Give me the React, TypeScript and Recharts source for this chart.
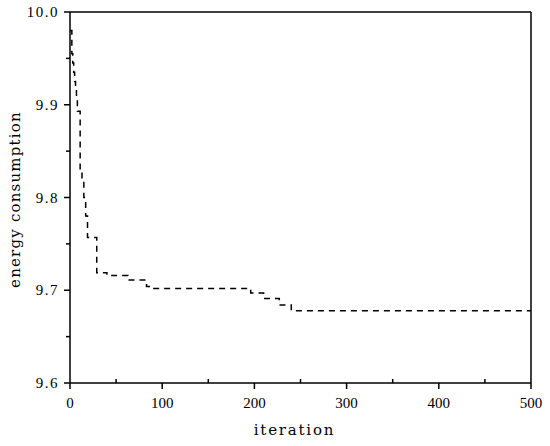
import React from 'react';
import { LineChart, Line, XAxis, YAxis, ReferenceLine } from 'recharts';

// step curve: iteration where the value changes
const iterations = [0, 2, 3, 4, 5, 6, 7, 8, 11, 13, 15, 17, 19, 29, 40, 63, 83, 86, 196, 210, 227, 240, 500];
const energy = [
  9.98, 9.955, 9.945, 9.935, 9.925, 9.915, 9.905, 9.893, 9.83, 9.82, 9.8, 9.78, 9.757, 9.719, 9.716, 9.711,
  9.704, 9.702, 9.697, 9.691, 9.684, 9.678, 9.678,
];

const xTicks = [0, 50, 100, 150, 200, 250, 300, 350, 400, 450, 500];
const yTicks = [9.6, 9.65, 9.7, 9.75, 9.8, 9.85, 9.9, 9.95, 10.0];

const chartData = iterations.map((it, i) => ({ iteration: it, energy: energy[i] }));

const TICK_FONT = '"Liberation Serif", "Times New Roman", serif';
const TITLE_FONT = '"DejaVu Serif", "Liberation Serif", serif';

const XTick = ({ x, y, payload }: { x?: number; y?: number; payload?: { value: number } }) => {
  if (x == null || y == null || !payload) return null;
  const major = payload.value % 100 === 0;
  return (
    <g>
      <line x1={x} x2={x} y1={y} y2={major ? y + 6 : y - 4} stroke="#000" strokeWidth={1.5} />
      {major && (
        <text
          x={x}
          y={y + 20}
          textAnchor="middle"
          dominantBaseline="central"
          fontFamily={TICK_FONT}
          fontSize={15}
          fill="#000"
        >
          {payload.value}
        </text>
      )}
    </g>
  );
};

const YTick = ({ x, y, payload }: { x?: number; y?: number; payload?: { value: number } }) => {
  if (x == null || y == null || !payload) return null;
  const major = Math.round(payload.value * 100) % 10 === 0;
  return (
    <g>
      <line x1={major ? x - 6 : x - 4} x2={x} y1={y} y2={y} stroke="#000" strokeWidth={1.5} />
      {major && (
        <text
          x={x - 11}
          y={y}
          textAnchor="end"
          dominantBaseline="central"
          fontFamily={TICK_FONT}
          fontSize={15}
          letterSpacing={1.5}
          fill="#000"
        >
          {payload.value.toFixed(1)}
        </text>
      )}
    </g>
  );
};

export default function App() {
  return (
    <div style={{ width: 550, height: 446, background: '#fff' }}>
      <style>{'body{margin:0;}'}</style>
      <LineChart width={550} height={446} data={chartData} margin={{ top: 12, right: 19, left: 0, bottom: 0 }}>
        <XAxis
          dataKey="iteration"
          type="number"
          domain={[0, 500]}
          ticks={xTicks}
          interval={0}
          height={63}
          tickSize={0}
          tickMargin={0}
          tickLine={false}
          axisLine={{ stroke: '#000', strokeWidth: 1.5 }}
          tick={<XTick />}
          label={{
            content: ({ viewBox }: any) => (
              <text
                x={viewBox.x + viewBox.width / 2 - 6}
                y={viewBox.y + 47}
                textAnchor="middle"
                dominantBaseline="central"
                fontFamily={TITLE_FONT}
                fontSize={15}
                letterSpacing={1.8}
                fill="#000"
              >
                iteration
              </text>
            ),
          }}
        />
        <YAxis
          type="number"
          domain={[9.6, 10.0]}
          ticks={yTicks}
          interval={0}
          width={70}
          tickSize={0}
          tickMargin={0}
          tickLine={false}
          allowDataOverflow
          axisLine={{ stroke: '#000', strokeWidth: 1.5 }}
          tick={<YTick />}
          label={{
            content: ({ viewBox }: any) => {
              const cx = 15;
              const cy = viewBox.y + viewBox.height / 2 + 2;
              return (
                <text
                  x={cx}
                  y={cy}
                  transform={`rotate(-90, ${cx}, ${cy})`}
                  textAnchor="middle"
                  dominantBaseline="central"
                  fontFamily={TITLE_FONT}
                  fontSize={15}
                  letterSpacing={1.2}
                  fill="#000"
                >
                  energy consumption
                </text>
              );
            },
          }}
        />
        <ReferenceLine y={10.0} stroke="#000" strokeWidth={1.5} ifOverflow="extendDomain" />
        <ReferenceLine x={500} stroke="#000" strokeWidth={1.5} ifOverflow="extendDomain" />
        <Line
          type="stepAfter"
          dataKey="energy"
          stroke="#000"
          strokeWidth={1.5}
          strokeDasharray="6 5"
          dot={false}
          activeDot={false}
          isAnimationActive={false}
        />
      </LineChart>
    </div>
  );
}
